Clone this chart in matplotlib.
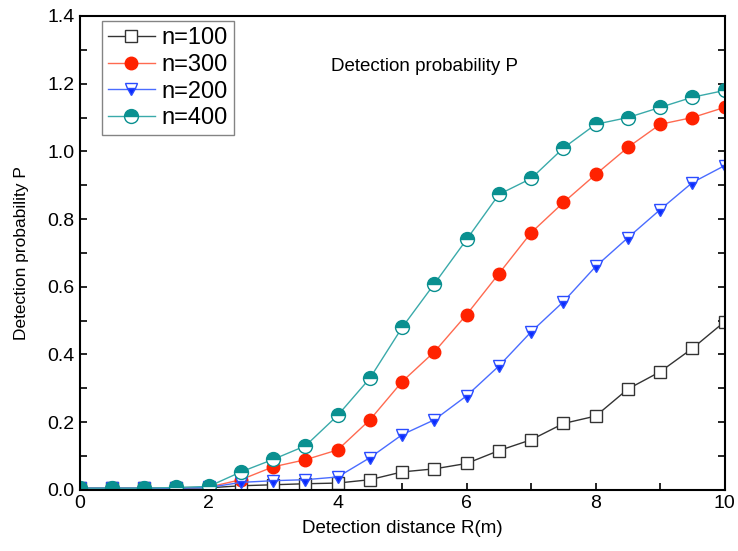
"""Detection probability versus detection distance"""

import numpy as np
import matplotlib
matplotlib.use("Agg")
import matplotlib.pyplot as plt
import matplotlib.ticker as tick

plt.rcParams["font.family"] = ["Liberation Sans", "DejaVu Sans"]

distance = np.arange(0, 10.01, 0.5)
p_n100 = [0.005, 0.005, 0.005, 0.005, 0.006, 0.012, 0.015, 0.018, 0.02, 0.03,
          0.053, 0.062, 0.078, 0.116, 0.148, 0.196, 0.218, 0.298, 0.349,
          0.418, 0.497]
p_n300 = [0.005, 0.005, 0.005, 0.006, 0.008, 0.03, 0.068, 0.089, 0.118, 0.207,
          0.32, 0.408, 0.518, 0.639, 0.76, 0.849, 0.932, 1.012, 1.08, 1.10,
          1.13]
p_n200 = [0.005, 0.005, 0.005, 0.005, 0.007, 0.022, 0.027, 0.03, 0.038, 0.095,
          0.163, 0.207, 0.278, 0.366, 0.467, 0.556, 0.66, 0.745, 0.828,
          0.908, 0.958]
p_n400 = [0.005, 0.005, 0.005, 0.007, 0.01, 0.053, 0.09, 0.13, 0.22, 0.33,
          0.48, 0.609, 0.74, 0.873, 0.92, 1.01, 1.08, 1.10, 1.13, 1.16, 1.18]

fig = plt.figure(figsize=(7.38, 5.51), dpi=100)
ax = fig.add_axes([0.108, 0.111, 0.874, 0.860])

ax.plot(distance, p_n100, color="#333333", lw=1.0, marker="s", ms=8,
        mfc="white", mec="#333333", mew=1.0, label="n=100")
ax.plot(distance, p_n300, color="#FF6A50", lw=1.0, marker="o", ms=9,
        mfc="#FF2200", mec="#FF2200", label="n=300")
ax.plot(distance, p_n200, color="#4A6CFF", lw=1.0, marker="v", ms=9,
        mfc="#0A2AFF", mec="#2A4CFF", mew=1.0, fillstyle="bottom",
        markerfacecoloralt="white", label="n=200")
ax.plot(distance, p_n400, color="#3AAAAA", lw=1.0, marker="o", ms=10,
        mfc="#0A9090", mec="#0A9090", mew=1.0, fillstyle="top",
        markerfacecoloralt="white", label="n=400")

ax.set_xlim(0, 10)
ax.set_ylim(0, 1.4)
ax.xaxis.set_major_locator(tick.MultipleLocator(2))
ax.xaxis.set_minor_locator(tick.MultipleLocator(1))
ax.yaxis.set_major_locator(tick.MultipleLocator(0.2))
ax.yaxis.set_minor_locator(tick.MultipleLocator(0.1))
ax.yaxis.set_major_formatter(tick.FormatStrFormatter("%.1f"))
ax.tick_params(which="both", direction="in", length=5, width=1.2,
               labelsize=14, right=True, top=False)
for side in ax.spines.values():
    side.set_linewidth(1.5)

ax.set_xlabel("Detection distance R(m)", fontsize=13.5, labelpad=6)
ax.set_ylabel("Detection probability P", fontsize=12.5)
ax.yaxis.set_label_coords(-0.078, 0.5)
ax.text(5.35, 1.25, "Detection probability P", fontsize=13.5, ha="center",
        va="center")

leg = ax.legend(loc="upper left", bbox_to_anchor=(0.034, 0.989), fontsize=17,
                frameon=True, fancybox=False, edgecolor="#666666",
                borderaxespad=0, handlelength=2.0, handletextpad=0.3,
                borderpad=0.25, labelspacing=0.2)
leg.get_frame().set_linewidth(1.0)

fig.savefig("out.png", dpi=100)
